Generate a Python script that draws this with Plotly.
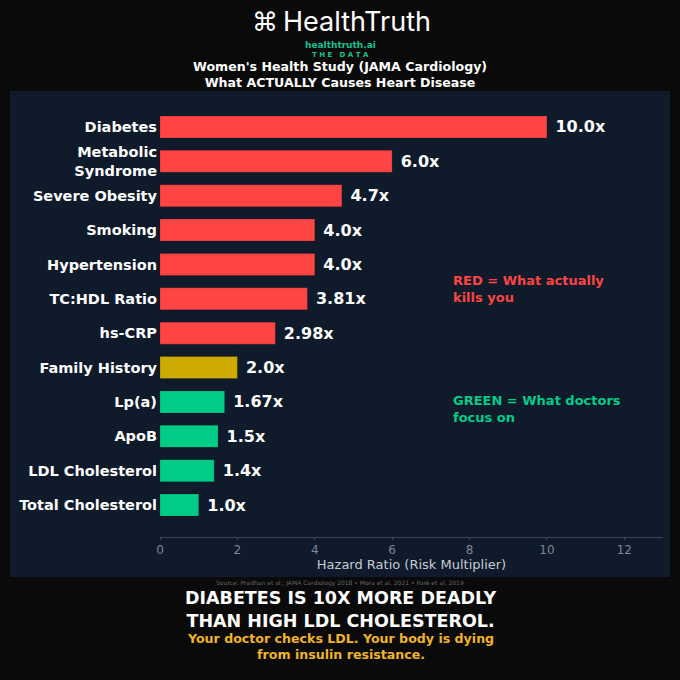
import plotly.graph_objects as go

# data
factors = ['Diabetes', 'Metabolic<br>Syndrome', 'Severe Obesity', 'Smoking', 'Hypertension',
           'TC:HDL Ratio', 'hs-CRP', 'Family History', 'Lp(a)', 'ApoB', 'LDL Cholesterol',
           'Total Cholesterol']
hazard_ratios = [10.0, 6.0, 4.7, 4.0, 4.0, 3.81, 2.98, 2.0, 1.67, 1.5, 1.4, 1.0]
value_labels = ['10.0x', '6.0x', '4.7x', '4.0x', '4.0x', '3.81x', '2.98x', '2.0x',
                '1.67x', '1.5x', '1.4x', '1.0x']
groups = ['red'] * 7 + ['gold'] + ['green'] * 4
x_ticks = [0, 2, 4, 6, 8, 10, 12]

RED = '#ff4444'
GOLD = '#ccaa00'
GREEN = '#00cc88'
color_map = {'red': RED, 'gold': GOLD, 'green': GREEN}

PAGE_BG = '#0a0a0a'
PANEL_BG = '#0f1a2b'
FONT = 'DejaVu Sans'

# bottom-to-top ordering for the category axis
cats = factors[::-1]
vals = hazard_ratios[::-1]
texts = value_labels[::-1]
cols = [color_map[g] for g in groups[::-1]]

fig = go.Figure()
fig.add_trace(go.Bar(
    x=vals,
    y=cats,
    orientation='h',
    marker=dict(color=cols, line=dict(color='rgba(0,0,0,0.15)', width=1)),
    width=0.64,
    text=texts,
    texttemplate=' %{text}',
    textposition='outside',
    textfont=dict(family=FONT, size=16, color='white', weight='bold'),
    cliponaxis=False,
    hoverinfo='skip',
))

# plot area in pixels: x 160..663, y 96..537
L, R, T, B = 160, 17, 96, 143
W, H = 680 - L - R, 680 - T - B


def px_x(p):
    return (p - L) / W


def px_y(p):
    return (680 - B - p) / H


fig.add_shape(type='rect', xref='paper', yref='paper',
              x0=px_x(10), x1=px_x(670), y0=px_y(577), y1=px_y(91),
              fillcolor=PANEL_BG, line=dict(width=0), layer='below')


def note(text, x, y, size, color, bold=True, xanchor='center', family=FONT):
    fig.add_annotation(text=text, xref='paper', yref='paper', x=px_x(x), y=px_y(y),
                       xanchor=xanchor, yanchor='middle', showarrow=False,
                       align='left' if xanchor == 'left' else 'center',
                       font=dict(family=family, size=size, color=color,
                                 weight='bold' if bold else 'normal'))


# header
note('⌘', 265, 22, 26, 'white', bold=False, family='DejaVu Sans')
note('HealthTruth', 357, 22, 27, 'white', bold=False, family='Inter')
note('healthtruth.ai', 340, 45, 9, '#18c28f')
note('T H E   D A T A', 340, 55, 7, '#18c28f')
note("Women's Health Study (JAMA Cardiology)<br>What ACTUALLY Causes Heart Disease",
     340, 75, 12.6, 'white')

# colour key
note('RED = What actually<br>kills you', 451, 289, 13, RED, xanchor='left')
note('GREEN = What doctors<br>focus on', 451, 409, 13, GREEN, xanchor='left')

# footer
note('Source: Pradhan et al., JAMA Cardiology 2018 • Mora et al. 2021 • Paré et al. 2019',
     340, 583, 6, '#666666', bold=False)
note('DIABETES IS 10X MORE DEADLY<br>THAN HIGH LDL CHOLESTEROL.', 340, 609, 17.5, 'white')
note('Your doctor checks LDL. Your body is dying<br>from insulin resistance.',
     340, 646, 12.6, '#f0b429')

fig.update_layout(
    width=680, height=680,
    margin=dict(l=L, r=R, t=T, b=B, pad=0),
    paper_bgcolor=PAGE_BG,
    plot_bgcolor='rgba(0,0,0,0)',
    showlegend=False,
    xaxis=dict(
        range=[0, 13],
        tickvals=x_ticks,
        showgrid=True,
        gridcolor='rgba(20,30,50,0.22)',
        gridwidth=1,
        zeroline=False,
        showline=True,
        linecolor='#3a4556',
        linewidth=1,
        ticks='outside',
        ticklen=2,
        tickcolor='#3a4556',
        tickfont=dict(family=FONT, size=12, color='#7d8794'),
        title=dict(text='Hazard Ratio (Risk Multiplier)', standoff=2,
                   font=dict(family=FONT, size=13, color='#c7ccd3')),
        layer='above traces',
        fixedrange=True,
    ),
    yaxis=dict(
        categoryorder='array',
        categoryarray=cats,
        range=[-0.93, 11.9],
        showgrid=False,
        zeroline=False,
        showline=False,
        ticks='',
        ticklabelstandoff=2,
        tickfont=dict(family=FONT, size=14.5, color='white', weight='bold'),
        fixedrange=True,
    ),
)

fig.write_html('out.html', config={'displayModeBar': False},
               post_script="document.body.style.margin='0';")
